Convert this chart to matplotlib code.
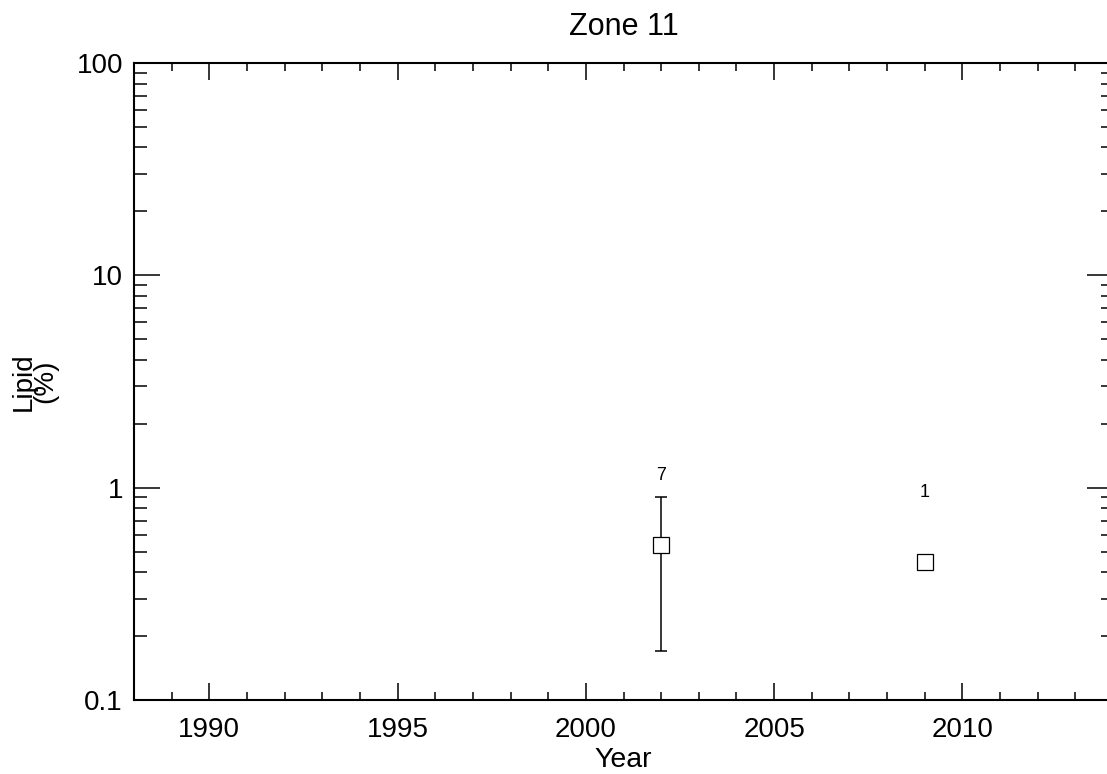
import matplotlib
matplotlib.use("Agg")
import matplotlib.pyplot as plt
from matplotlib.ticker import LogLocator, FixedLocator, NullFormatter, MultipleLocator

plt.rcParams['font.family'] = ['Liberation Sans', 'DejaVu Sans']

# data
years = [2002, 2009]
lipid = [0.535, 0.447]
err_lo = [0.171, None]
err_hi = [0.90, None]
counts = ["7", "1"]
count_y = [1.14, 0.95]

fig = plt.figure(figsize=(11.07, 7.74), dpi=100)
ax = fig.add_axes([134 / 1107, 74 / 774, 979 / 1107, 637 / 774])

# error bar for points with spread
for x, y, lo, hi in zip(years, lipid, err_lo, err_hi):
    if lo is not None:
        ax.errorbar([x], [y], yerr=[[y - lo], [hi - y]], fmt='none', ecolor='black',
                    elinewidth=1.1, capsize=4, capthick=1.1)
ax.plot(years, lipid, linestyle='none', marker='s', markersize=12, markerfacecolor='white',
        markeredgecolor='black', markeredgewidth=0.9, zorder=3)
for x, c, cy in zip(years, counts, count_y):
    ax.text(x, cy, c, ha='center', va='center', fontsize=13)

ax.set_yscale('log')
ax.set_xlim(1988, 2014)
ax.set_ylim(0.1, 100)
ax.xaxis.set_major_locator(MultipleLocator(5))
ax.xaxis.set_minor_locator(MultipleLocator(1))
ax.yaxis.set_major_locator(FixedLocator([0.1, 1, 10, 100]))
ax.yaxis.set_minor_locator(LogLocator(base=10, subs=range(2, 10)))
ax.yaxis.set_minor_formatter(NullFormatter())
ax.set_yticklabels(['0.1', '1', '10', '100'])

ax.tick_params(axis='both', which='both', direction='in', top=True, right=True, labelsize=20, color='black')
ax.tick_params(axis='x', which='major', length=12, width=1.1, pad=12)
ax.tick_params(axis='x', which='minor', length=6, width=1.1)
ax.tick_params(axis='y', which='major', length=19, width=1.1, pad=8)
ax.tick_params(axis='y', which='minor', length=9, width=1.1)
for s in ax.spines.values():
    s.set_linewidth(1.5)

ax.set_title('Zone 11', fontsize=22, pad=20)
ax.set_xlabel('Year', fontsize=20.5, labelpad=3)
ax.set_ylabel('Lipid\n(%)', fontsize=20, linespacing=0.8, labelpad=13)

fig.savefig('out.png', dpi=100)
